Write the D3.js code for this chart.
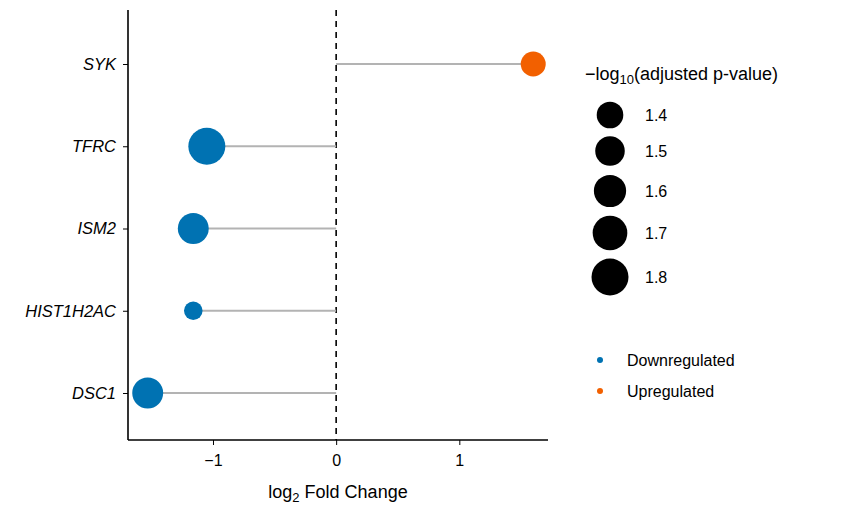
<!DOCTYPE html>
<html><head><meta charset="utf-8">
<script src="https://cdn.jsdelivr.net/npm/d3@7"></script>
<style>body{margin:0;background:#fff;font-family:"Liberation Sans",Arial,sans-serif;}</style>
</head><body>
<script>
var genes = ["SYK", "TFRC", "ISM2", "HIST1H2AC", "DSC1"];
var logFC = [1.60, -1.05, -1.16, -1.16, -1.53];
var negLogP = [1.35, 1.8, 1.55, 1.18, 1.55];
var direction = ["Upregulated", "Downregulated", "Downregulated", "Downregulated", "Downregulated"];
var sizeBreaks = [1.4, 1.5, 1.6, 1.7, 1.8];
var xTicks = [-1, 0, 1];

var W = 842, H = 514;
var svg = d3.select("body").append("svg").attr("width", W).attr("height", H);

var x = d3.scaleLinear().domain([-1.69, 1.72]).range([128, 548]);
var y = d3.scalePoint().domain(genes).range([64, 393]);
// area proportional to value
var area = d3.scaleLinear().domain([1.4, 1.8]).range([177, 342]);
function radius(v) { return Math.sqrt(Math.max(area(v), 10)); }
var colour = d3.scaleOrdinal().domain(["Downregulated", "Upregulated"]).range(["#0072B2", "#F26000"]);

var data = genes.map(function(g, i) {
	return {gene: g, fc: logFC[i], p: negLogP[i], dir: direction[i]};
});

// zero line
svg.append("line")
	.attr("x1", x(0)).attr("x2", x(0)).attr("y1", 10).attr("y2", 440)
	.attr("stroke", "#000").attr("stroke-width", 1.6).attr("stroke-dasharray", "6,5");

svg.selectAll(".stem").data(data).enter().append("line")
	.attr("x1", x(0)).attr("x2", function(d) {return x(d.fc);})
	.attr("y1", function(d) {return y(d.gene);}).attr("y2", function(d) {return y(d.gene);})
	.attr("stroke", "#b3b3b3").attr("stroke-width", 2.2);

svg.selectAll(".dot").data(data).enter().append("circle")
	.attr("cx", function(d) {return x(d.fc);})
	.attr("cy", function(d) {return y(d.gene);})
	.attr("r", function(d) {return radius(d.p);})
	.attr("fill", function(d) {return colour(d.dir);});

// axes
var xAxis = svg.append("g").attr("transform", "translate(0,440)")
	.call(d3.axisBottom(x).tickValues(xTicks).tickSize(5).tickPadding(10).tickFormat(function(d) {return d < 0 ? "\u2212" + (-d) : d;}));
xAxis.select(".domain").attr("d", "M128,0H548").attr("stroke-width", 1.6);
xAxis.selectAll("line").attr("stroke", "#000");
xAxis.selectAll("text").attr("font-size", 16).attr("fill", "#000").attr("font-family", "Liberation Sans");

var yAxis = svg.append("g").attr("transform", "translate(128,0)")
	.call(d3.axisLeft(y).tickSize(5));
yAxis.select(".domain").attr("d", "M0,10V440").attr("stroke-width", 1.6);
yAxis.selectAll("text").attr("font-size", 16.5).attr("font-style", "italic").attr("fill", "#000")
	.attr("font-family", "Liberation Sans").attr("x", -12);

var xt = svg.append("text").attr("x", 338).attr("y", 498).attr("text-anchor", "middle").attr("font-size", 18);
xt.append("tspan").text("log");
xt.append("tspan").attr("font-size", 13).attr("dy", 4).text("2");
xt.append("tspan").attr("dy", -4).text(" Fold Change");

// size legend
var lt = svg.append("text").attr("x", 585).attr("y", 80).attr("font-size", 18);
lt.append("tspan").text("\u2212log");
lt.append("tspan").attr("font-size", 13).attr("dy", 4).text("10");
lt.append("tspan").attr("dy", -4).text("(adjusted p-value)");

var legY = [115, 151, 191, 233, 277];
sizeBreaks.forEach(function(b, i) {
	svg.append("circle").attr("cx", 610).attr("cy", legY[i]).attr("r", radius(b)).attr("fill", "#000");
	svg.append("text").attr("x", 645).attr("y", legY[i] + 6).attr("font-size", 16).text(b.toFixed(1));
});

colour.domain().forEach(function(c, i) {
	var yy = 360 + i * 31;
	svg.append("circle").attr("cx", 600).attr("cy", yy).attr("r", 3).attr("fill", colour(c));
	svg.append("text").attr("x", 627).attr("y", yy + 6).attr("font-size", 16).text(c);
});
</script>
</body></html>
